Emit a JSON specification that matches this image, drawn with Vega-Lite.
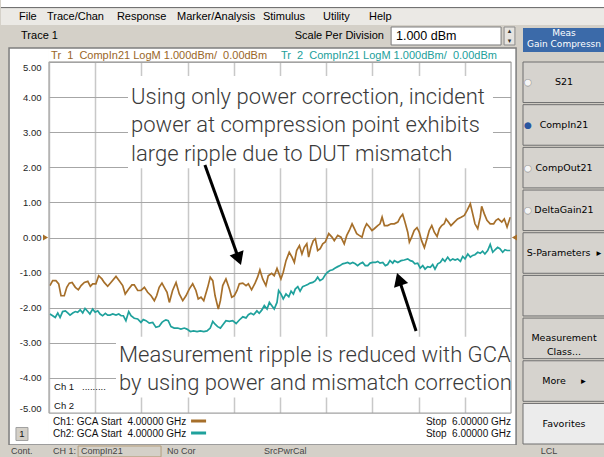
{
  "$schema": "https://vega.github.io/schema/vega-lite/v6.json",
  "background": "#d4d0c8",
  "padding": 0,
  "autosize": {"type": "pad"},
  "bounds": "flush",
  "align": "none",
  "columns": 2,
  "spacing": {"row": 6, "column": 12},
  "config": {"view": {"stroke": null}, "font": "Liberation Sans"},
  "datasets": {
    "traces": [
      {"trace":"Tr1","freq":4.004,"dbm":-1.37},{"trace":"Tr1","freq":4.016,"dbm":-1.23},{"trace":"Tr1","freq":4.030,"dbm":-1.23},{"trace":"Tr1","freq":4.042,"dbm":-1.32},{"trace":"Tr1","freq":4.052,"dbm":-1.66},{"trace":"Tr1","freq":4.066,"dbm":-1.66},{"trace":"Tr1","freq":4.077,"dbm":-1.42},{"trace":"Tr1","freq":4.088,"dbm":-1.30},{"trace":"Tr1","freq":4.100,"dbm":-1.28},{"trace":"Tr1","freq":4.114,"dbm":-1.42},
      {"trace":"Tr1","freq":4.127,"dbm":-1.49},{"trace":"Tr1","freq":4.139,"dbm":-1.37},{"trace":"Tr1","freq":4.153,"dbm":-1.28},{"trace":"Tr1","freq":4.168,"dbm":-1.25},{"trace":"Tr1","freq":4.179,"dbm":-1.39},{"trace":"Tr1","freq":4.189,"dbm":-1.32},{"trace":"Tr1","freq":4.203,"dbm":-1.32},{"trace":"Tr1","freq":4.215,"dbm":-1.09},{"trace":"Tr1","freq":4.229,"dbm":-1.18},{"trace":"Tr1","freq":4.239,"dbm":-1.28},
      {"trace":"Tr1","freq":4.254,"dbm":-1.39},{"trace":"Tr1","freq":4.268,"dbm":-1.28},{"trace":"Tr1","freq":4.290,"dbm":-1.11},{"trace":"Tr1","freq":4.304,"dbm":-1.23},{"trace":"Tr1","freq":4.319,"dbm":-1.37},{"trace":"Tr1","freq":4.330,"dbm":-1.61},{"trace":"Tr1","freq":4.345,"dbm":-1.47},{"trace":"Tr1","freq":4.359,"dbm":-1.35},{"trace":"Tr1","freq":4.369,"dbm":-1.35},{"trace":"Tr1","freq":4.384,"dbm":-1.51},
      {"trace":"Tr1","freq":4.398,"dbm":-1.51},{"trace":"Tr1","freq":4.413,"dbm":-1.42},{"trace":"Tr1","freq":4.427,"dbm":-1.56},{"trace":"Tr1","freq":4.442,"dbm":-1.66},{"trace":"Tr1","freq":4.456,"dbm":-1.80},{"trace":"Tr1","freq":4.466,"dbm":-1.66},{"trace":"Tr1","freq":4.477,"dbm":-1.42},{"trace":"Tr1","freq":4.489,"dbm":-1.30},{"trace":"Tr1","freq":4.499,"dbm":-1.42},{"trace":"Tr1","freq":4.511,"dbm":-1.56},
      {"trace":"Tr1","freq":4.521,"dbm":-1.85},{"trace":"Tr1","freq":4.535,"dbm":-1.51},{"trace":"Tr1","freq":4.550,"dbm":-1.28},{"trace":"Tr1","freq":4.564,"dbm":-1.61},{"trace":"Tr1","freq":4.579,"dbm":-1.80},{"trace":"Tr1","freq":4.593,"dbm":-1.66},{"trace":"Tr1","freq":4.607,"dbm":-1.47},{"trace":"Tr1","freq":4.622,"dbm":-1.32},{"trace":"Tr1","freq":4.636,"dbm":-1.51},{"trace":"Tr1","freq":4.646,"dbm":-1.75},
      {"trace":"Tr1","freq":4.658,"dbm":-1.70},{"trace":"Tr1","freq":4.670,"dbm":-1.80},{"trace":"Tr1","freq":4.687,"dbm":-1.42},{"trace":"Tr1","freq":4.698,"dbm":-1.13},{"trace":"Tr1","freq":4.709,"dbm":-1.23},{"trace":"Tr1","freq":4.719,"dbm":-1.66},{"trace":"Tr1","freq":4.733,"dbm":-2.04},{"trace":"Tr1","freq":4.742,"dbm":-1.80},{"trace":"Tr1","freq":4.752,"dbm":-1.37},{"trace":"Tr1","freq":4.766,"dbm":-1.18},
      {"trace":"Tr1","freq":4.781,"dbm":-1.47},{"trace":"Tr1","freq":4.791,"dbm":-1.70},{"trace":"Tr1","freq":4.802,"dbm":-1.66},{"trace":"Tr1","freq":4.814,"dbm":-1.51},{"trace":"Tr1","freq":4.824,"dbm":-1.32},{"trace":"Tr1","freq":4.839,"dbm":-1.30},{"trace":"Tr1","freq":4.853,"dbm":-1.37},{"trace":"Tr1","freq":4.863,"dbm":-1.32},{"trace":"Tr1","freq":4.877,"dbm":-1.49},{"trace":"Tr1","freq":4.892,"dbm":-1.30},
      {"trace":"Tr1","freq":4.903,"dbm":-1.13},{"trace":"Tr1","freq":4.913,"dbm":-0.92},{"trace":"Tr1","freq":4.925,"dbm":-1.18},{"trace":"Tr1","freq":4.939,"dbm":-1.37},{"trace":"Tr1","freq":4.949,"dbm":-1.09},{"trace":"Tr1","freq":4.964,"dbm":-1.02},{"trace":"Tr1","freq":4.975,"dbm":-1.09},{"trace":"Tr1","freq":4.987,"dbm":-0.88},{"trace":"Tr1","freq":5.004,"dbm":-1.18},{"trace":"Tr1","freq":5.014,"dbm":-0.99},
      {"trace":"Tr1","freq":5.026,"dbm":-0.66},{"trace":"Tr1","freq":5.040,"dbm":-0.42},{"trace":"Tr1","freq":5.052,"dbm":-0.56},{"trace":"Tr1","freq":5.062,"dbm":-0.71},{"trace":"Tr1","freq":5.072,"dbm":-0.37},{"trace":"Tr1","freq":5.084,"dbm":-0.23},{"trace":"Tr1","freq":5.095,"dbm":-0.47},{"trace":"Tr1","freq":5.105,"dbm":-0.28},{"trace":"Tr1","freq":5.116,"dbm":-0.18},{"trace":"Tr1","freq":5.124,"dbm":-0.56},
      {"trace":"Tr1","freq":5.134,"dbm":-0.28},{"trace":"Tr1","freq":5.144,"dbm":-0.09},{"trace":"Tr1","freq":5.153,"dbm":-0.04},{"trace":"Tr1","freq":5.163,"dbm":-0.37},{"trace":"Tr1","freq":5.174,"dbm":-0.32},{"trace":"Tr1","freq":5.185,"dbm":-0.18},{"trace":"Tr1","freq":5.196,"dbm":-0.13},{"trace":"Tr1","freq":5.211,"dbm":0.11},{"trace":"Tr1","freq":5.225,"dbm":0.01},{"trace":"Tr1","freq":5.235,"dbm":-0.09},
      {"trace":"Tr1","freq":5.250,"dbm":0.06},{"trace":"Tr1","freq":5.264,"dbm":0.01},{"trace":"Tr1","freq":5.278,"dbm":-0.18},{"trace":"Tr1","freq":5.289,"dbm":0.06},{"trace":"Tr1","freq":5.300,"dbm":0.20},{"trace":"Tr1","freq":5.312,"dbm":0.39},{"trace":"Tr1","freq":5.322,"dbm":0.25},{"trace":"Tr1","freq":5.332,"dbm":0.11},{"trace":"Tr1","freq":5.343,"dbm":0.06},{"trace":"Tr1","freq":5.355,"dbm":0.01},
      {"trace":"Tr1","freq":5.365,"dbm":0.25},{"trace":"Tr1","freq":5.375,"dbm":0.39},{"trace":"Tr1","freq":5.387,"dbm":0.30},{"trace":"Tr1","freq":5.398,"dbm":0.20},{"trace":"Tr1","freq":5.408,"dbm":0.25},{"trace":"Tr1","freq":5.423,"dbm":0.34},{"trace":"Tr1","freq":5.433,"dbm":0.39},{"trace":"Tr1","freq":5.442,"dbm":0.58},{"trace":"Tr1","freq":5.452,"dbm":0.34},{"trace":"Tr1","freq":5.466,"dbm":0.34},
      {"trace":"Tr1","freq":5.481,"dbm":0.39},{"trace":"Tr1","freq":5.495,"dbm":0.39},{"trace":"Tr1","freq":5.510,"dbm":0.44},{"trace":"Tr1","freq":5.521,"dbm":0.58},{"trace":"Tr1","freq":5.531,"dbm":0.66},{"trace":"Tr1","freq":5.541,"dbm":0.44},{"trace":"Tr1","freq":5.553,"dbm":0.15},{"trace":"Tr1","freq":5.560,"dbm":-0.13},{"trace":"Tr1","freq":5.570,"dbm":0.01},{"trace":"Tr1","freq":5.581,"dbm":0.20},
      {"trace":"Tr1","freq":5.593,"dbm":0.28},{"trace":"Tr1","freq":5.603,"dbm":0.15},{"trace":"Tr1","freq":5.613,"dbm":-0.09},{"trace":"Tr1","freq":5.625,"dbm":-0.29},{"trace":"Tr1","freq":5.636,"dbm":-0.04},{"trace":"Tr1","freq":5.646,"dbm":0.20},{"trace":"Tr1","freq":5.657,"dbm":0.34},{"trace":"Tr1","freq":5.668,"dbm":0.15},{"trace":"Tr1","freq":5.680,"dbm":0.03},{"trace":"Tr1","freq":5.690,"dbm":0.25},
      {"trace":"Tr1","freq":5.700,"dbm":0.34},{"trace":"Tr1","freq":5.711,"dbm":0.39},{"trace":"Tr1","freq":5.719,"dbm":0.53},{"trace":"Tr1","freq":5.729,"dbm":0.44},{"trace":"Tr1","freq":5.740,"dbm":0.34},{"trace":"Tr1","freq":5.755,"dbm":0.44},{"trace":"Tr1","freq":5.769,"dbm":0.53},{"trace":"Tr1","freq":5.784,"dbm":0.58},{"trace":"Tr1","freq":5.798,"dbm":0.63},{"trace":"Tr1","freq":5.810,"dbm":0.77},
      {"trace":"Tr1","freq":5.824,"dbm":0.96},{"trace":"Tr1","freq":5.834,"dbm":0.68},{"trace":"Tr1","freq":5.844,"dbm":0.39},{"trace":"Tr1","freq":5.856,"dbm":0.25},{"trace":"Tr1","freq":5.867,"dbm":0.58},{"trace":"Tr1","freq":5.873,"dbm":0.89},{"trace":"Tr1","freq":5.884,"dbm":0.68},{"trace":"Tr1","freq":5.896,"dbm":0.49},{"trace":"Tr1","freq":5.910,"dbm":0.39},{"trace":"Tr1","freq":5.925,"dbm":0.39},
      {"trace":"Tr1","freq":5.935,"dbm":0.49},{"trace":"Tr1","freq":5.945,"dbm":0.53},{"trace":"Tr1","freq":5.960,"dbm":0.44},{"trace":"Tr1","freq":5.971,"dbm":0.53},{"trace":"Tr1","freq":5.983,"dbm":0.30},{"trace":"Tr1","freq":5.997,"dbm":0.58},
      {"trace":"Tr2","freq":4.004,"dbm":-2.18},{"trace":"Tr2","freq":4.016,"dbm":-2.23},{"trace":"Tr2","freq":4.027,"dbm":-2.28},{"trace":"Tr2","freq":4.038,"dbm":-2.15},{"trace":"Tr2","freq":4.048,"dbm":-2.28},{"trace":"Tr2","freq":4.059,"dbm":-2.11},{"trace":"Tr2","freq":4.071,"dbm":-2.09},{"trace":"Tr2","freq":4.081,"dbm":-2.15},{"trace":"Tr2","freq":4.091,"dbm":-2.21},{"trace":"Tr2","freq":4.103,"dbm":-2.15},
      {"trace":"Tr2","freq":4.114,"dbm":-2.11},{"trace":"Tr2","freq":4.124,"dbm":-2.13},{"trace":"Tr2","freq":4.135,"dbm":-2.06},{"trace":"Tr2","freq":4.146,"dbm":-2.15},{"trace":"Tr2","freq":4.156,"dbm":-2.02},{"trace":"Tr2","freq":4.168,"dbm":-2.11},{"trace":"Tr2","freq":4.177,"dbm":-2.18},{"trace":"Tr2","freq":4.189,"dbm":-2.04},{"trace":"Tr2","freq":4.200,"dbm":-2.13},{"trace":"Tr2","freq":4.211,"dbm":-2.09},
      {"trace":"Tr2","freq":4.221,"dbm":-2.18},{"trace":"Tr2","freq":4.232,"dbm":-2.23},{"trace":"Tr2","freq":4.244,"dbm":-2.16},{"trace":"Tr2","freq":4.254,"dbm":-2.21},{"trace":"Tr2","freq":4.264,"dbm":-2.21},{"trace":"Tr2","freq":4.276,"dbm":-2.18},{"trace":"Tr2","freq":4.290,"dbm":-2.21},{"trace":"Tr2","freq":4.302,"dbm":-2.18},{"trace":"Tr2","freq":4.312,"dbm":-2.23},{"trace":"Tr2","freq":4.322,"dbm":-2.23},
      {"trace":"Tr2","freq":4.333,"dbm":-2.37},{"trace":"Tr2","freq":4.345,"dbm":-2.11},{"trace":"Tr2","freq":4.355,"dbm":-2.23},{"trace":"Tr2","freq":4.369,"dbm":-2.30},{"trace":"Tr2","freq":4.384,"dbm":-2.32},{"trace":"Tr2","freq":4.398,"dbm":-2.42},{"trace":"Tr2","freq":4.408,"dbm":-2.34},{"trace":"Tr2","freq":4.420,"dbm":-2.37},{"trace":"Tr2","freq":4.434,"dbm":-2.44},{"trace":"Tr2","freq":4.449,"dbm":-2.42},
      {"trace":"Tr2","freq":4.463,"dbm":-2.56},{"trace":"Tr2","freq":4.477,"dbm":-2.53},{"trace":"Tr2","freq":4.489,"dbm":-2.42},{"trace":"Tr2","freq":4.499,"dbm":-2.37},{"trace":"Tr2","freq":4.506,"dbm":-2.35},{"trace":"Tr2","freq":4.516,"dbm":-2.37},{"trace":"Tr2","freq":4.528,"dbm":-2.54},{"trace":"Tr2","freq":4.542,"dbm":-2.58},{"trace":"Tr2","freq":4.557,"dbm":-2.58},{"trace":"Tr2","freq":4.571,"dbm":-2.61},
      {"trace":"Tr2","freq":4.586,"dbm":-2.58},{"trace":"Tr2","freq":4.597,"dbm":-2.61},{"trace":"Tr2","freq":4.612,"dbm":-2.68},{"trace":"Tr2","freq":4.626,"dbm":-2.66},{"trace":"Tr2","freq":4.641,"dbm":-2.68},{"trace":"Tr2","freq":4.655,"dbm":-2.66},{"trace":"Tr2","freq":4.670,"dbm":-2.68},{"trace":"Tr2","freq":4.684,"dbm":-2.66},{"trace":"Tr2","freq":4.698,"dbm":-2.58},{"trace":"Tr2","freq":4.709,"dbm":-2.39},
      {"trace":"Tr2","freq":4.719,"dbm":-2.47},{"trace":"Tr2","freq":4.730,"dbm":-2.54},{"trace":"Tr2","freq":4.742,"dbm":-2.58},{"trace":"Tr2","freq":4.752,"dbm":-2.49},{"trace":"Tr2","freq":4.766,"dbm":-2.37},{"trace":"Tr2","freq":4.781,"dbm":-2.39},{"trace":"Tr2","freq":4.795,"dbm":-2.37},{"trace":"Tr2","freq":4.810,"dbm":-2.45},{"trace":"Tr2","freq":4.824,"dbm":-2.35},{"trace":"Tr2","freq":4.839,"dbm":-2.26},
      {"trace":"Tr2","freq":4.853,"dbm":-2.29},{"trace":"Tr2","freq":4.863,"dbm":-2.20},{"trace":"Tr2","freq":4.874,"dbm":-2.16},{"trace":"Tr2","freq":4.886,"dbm":-2.20},{"trace":"Tr2","freq":4.900,"dbm":-2.09},{"trace":"Tr2","freq":4.910,"dbm":-2.16},{"trace":"Tr2","freq":4.921,"dbm":-2.07},{"trace":"Tr2","freq":4.932,"dbm":-1.94},{"trace":"Tr2","freq":4.944,"dbm":-2.04},{"trace":"Tr2","freq":4.954,"dbm":-1.85},
      {"trace":"Tr2","freq":4.964,"dbm":-1.94},{"trace":"Tr2","freq":4.975,"dbm":-2.04},{"trace":"Tr2","freq":4.987,"dbm":-1.85},{"trace":"Tr2","freq":4.994,"dbm":-1.51},{"trace":"Tr2","freq":5.004,"dbm":-1.61},{"trace":"Tr2","freq":5.014,"dbm":-1.75},{"trace":"Tr2","freq":5.026,"dbm":-1.61},{"trace":"Tr2","freq":5.038,"dbm":-1.69},{"trace":"Tr2","freq":5.048,"dbm":-1.53},{"trace":"Tr2","freq":5.058,"dbm":-1.61},
      {"trace":"Tr2","freq":5.066,"dbm":-1.47},{"trace":"Tr2","freq":5.077,"dbm":-1.40},{"trace":"Tr2","freq":5.087,"dbm":-1.53},{"trace":"Tr2","freq":5.098,"dbm":-1.40},{"trace":"Tr2","freq":5.110,"dbm":-1.37},{"trace":"Tr2","freq":5.120,"dbm":-1.34},{"trace":"Tr2","freq":5.130,"dbm":-1.30},{"trace":"Tr2","freq":5.142,"dbm":-1.28},{"trace":"Tr2","freq":5.153,"dbm":-1.23},{"trace":"Tr2","freq":5.163,"dbm":-1.13},
      {"trace":"Tr2","freq":5.173,"dbm":-1.23},{"trace":"Tr2","freq":5.185,"dbm":-1.18},{"trace":"Tr2","freq":5.196,"dbm":-1.06},{"trace":"Tr2","freq":5.206,"dbm":-0.99},{"trace":"Tr2","freq":5.216,"dbm":-0.94},{"trace":"Tr2","freq":5.228,"dbm":-0.92},{"trace":"Tr2","freq":5.239,"dbm":-0.87},{"trace":"Tr2","freq":5.250,"dbm":-0.83},{"trace":"Tr2","freq":5.260,"dbm":-0.80},{"trace":"Tr2","freq":5.271,"dbm":-0.75},
      {"trace":"Tr2","freq":5.283,"dbm":-0.73},{"trace":"Tr2","freq":5.293,"dbm":-0.71},{"trace":"Tr2","freq":5.303,"dbm":-0.75},{"trace":"Tr2","freq":5.315,"dbm":-0.71},{"trace":"Tr2","freq":5.326,"dbm":-0.75},{"trace":"Tr2","freq":5.336,"dbm":-0.80},{"trace":"Tr2","freq":5.346,"dbm":-0.75},{"trace":"Tr2","freq":5.358,"dbm":-0.71},{"trace":"Tr2","freq":5.369,"dbm":-0.80},{"trace":"Tr2","freq":5.380,"dbm":-0.80},
      {"trace":"Tr2","freq":5.390,"dbm":-0.73},{"trace":"Tr2","freq":5.401,"dbm":-0.71},{"trace":"Tr2","freq":5.413,"dbm":-0.71},{"trace":"Tr2","freq":5.423,"dbm":-0.68},{"trace":"Tr2","freq":5.433,"dbm":-0.73},{"trace":"Tr2","freq":5.445,"dbm":-0.71},{"trace":"Tr2","freq":5.456,"dbm":-0.80},{"trace":"Tr2","freq":5.466,"dbm":-0.77},{"trace":"Tr2","freq":5.476,"dbm":-0.66},{"trace":"Tr2","freq":5.488,"dbm":-0.73},
      {"trace":"Tr2","freq":5.495,"dbm":-0.66},{"trace":"Tr2","freq":5.510,"dbm":-0.71},{"trace":"Tr2","freq":5.524,"dbm":-0.66},{"trace":"Tr2","freq":5.538,"dbm":-0.64},{"trace":"Tr2","freq":5.553,"dbm":-0.61},{"trace":"Tr2","freq":5.564,"dbm":-0.66},{"trace":"Tr2","freq":5.574,"dbm":-0.68},{"trace":"Tr2","freq":5.584,"dbm":-0.75},{"trace":"Tr2","freq":5.596,"dbm":-0.73},{"trace":"Tr2","freq":5.607,"dbm":-0.87},
      {"trace":"Tr2","freq":5.618,"dbm":-0.80},{"trace":"Tr2","freq":5.628,"dbm":-0.90},{"trace":"Tr2","freq":5.639,"dbm":-0.83},{"trace":"Tr2","freq":5.651,"dbm":-0.85},{"trace":"Tr2","freq":5.661,"dbm":-0.77},{"trace":"Tr2","freq":5.671,"dbm":-0.90},{"trace":"Tr2","freq":5.683,"dbm":-0.75},{"trace":"Tr2","freq":5.694,"dbm":-0.71},{"trace":"Tr2","freq":5.704,"dbm":-0.61},{"trace":"Tr2","freq":5.714,"dbm":-0.68},
      {"trace":"Tr2","freq":5.726,"dbm":-0.56},{"trace":"Tr2","freq":5.737,"dbm":-0.66},{"trace":"Tr2","freq":5.748,"dbm":-0.61},{"trace":"Tr2","freq":5.758,"dbm":-0.64},{"trace":"Tr2","freq":5.769,"dbm":-0.61},{"trace":"Tr2","freq":5.781,"dbm":-0.68},{"trace":"Tr2","freq":5.791,"dbm":-0.54},{"trace":"Tr2","freq":5.801,"dbm":-0.61},{"trace":"Tr2","freq":5.813,"dbm":-0.47},{"trace":"Tr2","freq":5.824,"dbm":-0.56},
      {"trace":"Tr2","freq":5.834,"dbm":-0.51},{"trace":"Tr2","freq":5.844,"dbm":-0.49},{"trace":"Tr2","freq":5.856,"dbm":-0.42},{"trace":"Tr2","freq":5.867,"dbm":-0.45},{"trace":"Tr2","freq":5.877,"dbm":-0.39},{"trace":"Tr2","freq":5.887,"dbm":-0.47},{"trace":"Tr2","freq":5.899,"dbm":-0.37},{"trace":"Tr2","freq":5.910,"dbm":-0.20},{"trace":"Tr2","freq":5.921,"dbm":-0.42},{"trace":"Tr2","freq":5.931,"dbm":-0.35},
      {"trace":"Tr2","freq":5.942,"dbm":-0.28},{"trace":"Tr2","freq":5.952,"dbm":-0.32},{"trace":"Tr2","freq":5.964,"dbm":-0.42},{"trace":"Tr2","freq":5.974,"dbm":-0.35},{"trace":"Tr2","freq":5.983,"dbm":-0.37},{"trace":"Tr2","freq":5.997,"dbm":-0.37}
    ],
    "buttons": [
      {"label":"S21","radio":"off"},
      {"label":"CompIn21","radio":"on"},
      {"label":"CompOut21","radio":"off"},
      {"label":"DeltaGain21","radio":"off"},
      {"label":"S-Parameters\u00a0\u00a0▸","radio":"none"},
      {"label":" ","radio":"none"},
      {"label":"Measurement|Class...","radio":"none"},
      {"label":"\u00a0\u00a0\u00a0\u00a0\u00a0\u00a0\u00a0\u00a0\u00a0More\u00a0\u00a0\u00a0\u00a0\u00a0▸","radio":"none"},
      {"label":"Favorites","radio":"none"}
    ]
  },
  "concat": [
    {
      "width": 462,
      "height": 28,
      "data": {"values": [{}]},
      "layer": [
        {"mark": {"type": "text", "align": "left", "baseline": "middle", "fontSize": 11, "color": "#000", "clip": false},
         "encoding": {"x": {"datum": 3.879, "scale": {"domain": [4, 6], "nice": false, "zero": false}, "axis": null}, "y": {"datum": 0.714, "scale": {"domain": [0, 1], "nice": false, "zero": false}, "axis": null}, "text": {"value": "Trace 1"}}},
        {"mark": {"type": "text", "align": "right", "baseline": "middle", "fontSize": 11, "color": "#000", "clip": false},
         "encoding": {"x": {"datum": 5.45, "axis": null}, "y": {"datum": 0.714, "axis": null}, "text": {"value": "Scale Per Division"}}},
        {"mark": {"type": "rect", "fill": "white", "stroke": "#7b7b7b", "strokeWidth": 1, "clip": false},
         "encoding": {"x": {"datum": 5.481, "axis": null}, "x2": {"datum": 5.957}, "y": {"datum": 1.036, "axis": null}, "y2": {"datum": 0.393}}},
        {"mark": {"type": "text", "align": "left", "baseline": "middle", "fontSize": 12.5, "color": "#000", "clip": false},
         "encoding": {"x": {"datum": 5.502, "axis": null}, "y": {"datum": 0.714, "axis": null}, "text": {"value": "1.000 dBm"}}},
        {"mark": {"type": "rect", "fill": "#e6e4e0", "stroke": "#8a8a8a", "strokeWidth": 1, "clip": false},
         "encoding": {"x": {"datum": 5.970, "axis": null}, "x2": {"datum": 6.017}, "y": {"datum": 1.036, "axis": null}, "y2": {"datum": 0.393}}},
        {"mark": {"type": "text", "align": "center", "baseline": "middle", "fontSize": 7, "color": "#333", "font": "DejaVu Sans", "clip": false},
         "encoding": {"x": {"datum": 5.9935, "axis": null}, "y": {"datum": 0.88, "axis": null}, "text": {"value": "▴"}}},
        {"mark": {"type": "text", "align": "center", "baseline": "middle", "fontSize": 7, "color": "#333", "font": "DejaVu Sans", "clip": false},
         "encoding": {"x": {"datum": 5.9935, "axis": null}, "y": {"datum": 0.55, "axis": null}, "text": {"value": "▾"}}}
      ]
    },
    {
      "width": 82,
      "height": 24,
      "data": {"values": [{}]},
      "layer": [
        {"mark": {"type": "rect", "fill": "#3b6aa9"}, "encoding": {}},
        {"mark": {"type": "text", "align": "center", "baseline": "top", "fontSize": 9, "color": "white", "font": "DejaVu Sans", "clip": false},
         "encoding": {"y": {"datum": 0.95, "scale": {"domain": [0, 1], "nice": false, "zero": false}, "axis": null}, "text": {"value": "Meas"}}},
        {"mark": {"type": "text", "align": "center", "baseline": "top", "fontSize": 9, "color": "white", "font": "DejaVu Sans", "clip": false},
         "encoding": {"y": {"datum": 0.48, "axis": null}, "text": {"value": "Gain Compressn"}}}
      ]
    },
    {
      "width": 462,
      "height": 351,
      "view": {"fill": "white", "stroke": null},
      "data": {"values": [{}]},
      "resolve": {"axis": {"x": "independent", "y": "independent"}},
      "layer": [
        {
          "data": {"name": "traces"},
          "mark": {"type": "line", "strokeWidth": 1.7, "clip": true},
          "encoding": {
            "x": {"field": "freq", "type": "quantitative", "scale": {"domain": [4, 6], "nice": false, "zero": false},
                  "axis": {"orient": "bottom", "grid": true, "labels": false, "ticks": false, "domain": false, "title": null, "values": [4, 4.2, 4.4, 4.6, 4.8, 5, 5.2, 5.4, 5.6, 5.8, 6], "gridColor": "#c8c8c8", "gridWidth": 1.5, "minExtent": 0, "maxExtent": 0}},
            "y": {"field": "dbm", "type": "quantitative", "scale": {"domain": [-5, 5], "nice": false, "zero": false},
                  "axis": {"orient": "left", "grid": true, "labels": false, "ticks": false, "domain": false, "title": null, "values": [-5, -4, -3, -2, -1, 0, 1, 2, 3, 4, 5], "gridColor": "#a6a6a6", "gridWidth": 1, "minExtent": 0, "maxExtent": 0}},
            "color": {"field": "trace", "type": "nominal", "scale": {"domain": ["Tr1", "Tr2"], "range": ["#a66f2a", "#1fa19c"]}, "legend": null}
          }
        },
        {"mark": {"type": "rect", "fill": "white", "clip": false},
         "encoding": {"x": {"datum": 3.827, "axis": null}, "x2": {"datum": 3.998}, "y": {"datum": 5.399, "axis": null}, "y2": {"datum": -5.912}}},
        {"mark": {"type": "rect", "fill": "white", "clip": false},
         "encoding": {"x": {"datum": 3.996, "axis": null}, "x2": {"datum": 6.022}, "y": {"datum": 5.399, "axis": null}, "y2": {"datum": 5.014}}},
        {"mark": {"type": "rect", "fill": "white", "clip": false},
         "encoding": {"x": {"datum": 3.996, "axis": null}, "x2": {"datum": 6.022}, "y": {"datum": -5.014, "axis": null}, "y2": {"datum": -5.912}}},
        {"mark": {"type": "rect", "fill": "white", "clip": false},
         "encoding": {"x": {"datum": 6.002, "axis": null}, "x2": {"datum": 6.022}, "y": {"datum": 5.03, "axis": null}, "y2": {"datum": -5.03}}},
        {"mark": {"type": "rect", "fillOpacity": 0, "stroke": "#7d7d7d", "strokeWidth": 1.5, "clip": false},
         "encoding": {"x": {"datum": 3.827, "axis": null}, "x2": {"datum": 6.022}, "y": {"datum": 5.399, "axis": null}, "y2": {"datum": -5.912}}},
        {"mark": {"type": "rect", "fill": "white", "clip": false},
         "encoding": {"x": {"datum": 3.792, "axis": null}, "x2": {"datum": 6.407}, "y": {"datum": 6.766, "axis": null}, "y2": {"datum": 6.567}}},
        {"mark": {"type": "rect", "fill": "#ebe9e5", "clip": false},
         "encoding": {"x": {"datum": 3.792, "axis": null}, "x2": {"datum": 6.407}, "y": {"datum": 6.567, "axis": null}, "y2": {"datum": 6.054}}},
        {"mark": {"type": "rule", "stroke": "#666", "strokeWidth": 1, "clip": false},
         "encoding": {"x": {"datum": 3.792, "axis": null}, "x2": {"datum": 6.407}, "y": {"datum": 6.55, "axis": null}}},
        {"mark": {"type": "rect", "fill": "#d4d0c8", "clip": false},
         "encoding": {"x": {"datum": 3.792, "axis": null}, "x2": {"datum": 6.407}, "y": {"datum": -5.912, "axis": null}, "y2": {"datum": -6.254}}},
        {"mark": {"type": "rect", "fill": "white", "clip": false},
         "encoding": {"x": {"datum": 4.342, "axis": null}, "x2": {"datum": 5.922}, "y": {"datum": 4.6, "axis": null}, "y2": {"datum": 1.97}}},
        {"mark": {"type": "rect", "fill": "white", "clip": false},
         "encoding": {"x": {"datum": 4.29, "axis": null}, "x2": {"datum": 6.0}, "y": {"datum": -2.83, "axis": null}, "y2": {"datum": -4.56}}},
        {"mark": {"type": "rect", "fillOpacity": 0, "stroke": "#a0a0a0", "strokeWidth": 1, "clip": false},
         "encoding": {"x": {"datum": 4, "axis": null}, "x2": {"datum": 6}, "y": {"datum": 5, "axis": null}, "y2": {"datum": -5}}},
        {"mark": {"type": "text", "align": "left", "baseline": "top", "font": "Roboto", "fontWeight": 300, "fontSize": 22, "lineHeight": 28.5, "color": "#3a3a3a", "clip": false},
         "encoding": {"x": {"datum": 4.355, "axis": null}, "y": {"datum": 4.299, "axis": null},
                      "text": {"value": ["Using only power correction, incident", "power at compression point exhibits", "large ripple due to DUT mismatch"]}}},
        {"mark": {"type": "text", "align": "left", "baseline": "top", "font": "Roboto", "fontWeight": 300, "fontSize": 22, "lineHeight": 28, "color": "#3a3a3a", "clip": false},
         "encoding": {"x": {"datum": 4.303, "axis": null}, "y": {"datum": -3.051, "axis": null},
                      "text": {"value": ["Measurement ripple is reduced with GCA", "by using power and mismatch correction"]}}},
        {"mark": {"type": "rule", "color": "black", "strokeWidth": 3, "clip": false},
         "encoding": {"x": {"datum": 4.675, "axis": null}, "y": {"datum": 2.066, "axis": null}, "x2": {"datum": 4.8216}, "y2": {"datum": -0.61}}},
        {"mark": {"type": "point", "shape": "triangle-up", "filled": true, "color": "black", "opacity": 1, "size": 220, "angle": 160, "clip": false},
         "encoding": {"x": {"datum": 4.8216, "axis": null}, "y": {"datum": -0.61, "axis": null}}},
        {"mark": {"type": "rule", "color": "black", "strokeWidth": 3, "clip": false},
         "encoding": {"x": {"datum": 5.589, "axis": null}, "y": {"datum": -2.664, "axis": null}, "x2": {"datum": 5.5154}, "y2": {"datum": -1.188}}},
        {"mark": {"type": "point", "shape": "triangle-up", "filled": true, "color": "black", "opacity": 1, "size": 220, "angle": 341.6, "clip": false},
         "encoding": {"x": {"datum": 5.5154, "axis": null}, "y": {"datum": -1.188, "axis": null}}},
        {"mark": {"type": "text", "align": "left", "baseline": "middle", "fontSize": 11, "color": "#9a6628", "clip": false},
         "encoding": {"x": {"datum": 4.009, "axis": null}, "y": {"datum": 5.171, "axis": null}, "text": {"value": "Tr\u00a0\u00a01\u00a0\u00a0CompIn21 LogM 1.000dBm/\u00a0\u00a00.00dBm"}}},
        {"mark": {"type": "text", "align": "left", "baseline": "middle", "fontSize": 11, "color": "#22a09b", "clip": false},
         "encoding": {"x": {"datum": 5.004, "axis": null}, "y": {"datum": 5.171, "axis": null}, "text": {"value": "Tr\u00a0\u00a02\u00a0\u00a0CompIn21 LogM 1.000dBm/\u00a0\u00a00.00dBm"}}},
        {"mark": {"type": "point", "shape": "triangle-right", "filled": true, "color": "#a66f2a", "opacity": 1, "size": 35, "clip": false},
         "encoding": {"x": {"datum": 3.985, "axis": null}, "y": {"datum": 0, "axis": null}}},
        {"mark": {"type": "point", "shape": "triangle-left", "filled": true, "color": "#a66f2a", "opacity": 1, "size": 35, "clip": false},
         "encoding": {"x": {"datum": 6.015, "axis": null}, "y": {"datum": 0, "axis": null}}},
        {"mark": {"type": "text", "align": "left", "baseline": "top", "fontSize": 9.5, "lineHeight": 19, "color": "#111", "clip": false},
         "encoding": {"x": {"datum": 4.022, "axis": null}, "y": {"datum": -4.12, "axis": null}, "text": {"value": ["Ch 1\u00a0\u00a0\u00a0.........", "Ch 2"]}}},
        {"mark": {"type": "text", "align": "left", "baseline": "top", "fontSize": 10, "lineHeight": 12, "color": "#111", "clip": false},
         "encoding": {"x": {"datum": 4.017, "axis": null}, "y": {"datum": -5.117, "axis": null}, "text": {"value": ["Ch1: GCA Start\u00a0\u00a04.00000 GHz", "Ch2: GCA Start\u00a0\u00a04.00000 GHz"]}}},
        {"mark": {"type": "text", "align": "right", "baseline": "top", "fontSize": 10, "lineHeight": 12, "color": "#111", "clip": false},
         "encoding": {"x": {"datum": 6.0, "axis": null}, "y": {"datum": -5.117, "axis": null}, "text": {"value": ["Stop\u00a0\u00a06.00000 GHz", "Stop\u00a0\u00a06.00000 GHz"]}}},
        {"mark": {"type": "rule", "color": "#a66f2a", "strokeWidth": 3, "clip": false},
         "encoding": {"x": {"datum": 4.615, "axis": null}, "x2": {"datum": 4.68}, "y": {"datum": -5.228, "axis": null}}},
        {"mark": {"type": "rule", "color": "#1fa19c", "strokeWidth": 3, "clip": false},
         "encoding": {"x": {"datum": 4.615, "axis": null}, "x2": {"datum": 4.68}, "y": {"datum": -5.57, "axis": null}}},
        {"mark": {"type": "rect", "fill": "#d4d0c8", "stroke": "#a0a0a0", "clip": false},
         "encoding": {"x": {"datum": 3.857, "axis": null}, "x2": {"datum": 3.909}, "y": {"datum": -5.413, "axis": null}, "y2": {"datum": -5.783}}},
        {"mark": {"type": "text", "align": "center", "baseline": "middle", "fontSize": 9.5, "color": "#111", "clip": false},
         "encoding": {"x": {"datum": 3.883, "axis": null}, "y": {"datum": -5.598, "axis": null}, "text": {"value": "1"}}},
        {"mark": {"type": "text", "align": "left", "baseline": "middle", "fontSize": 11, "color": "#000", "clip": false},
         "encoding": {"x": {"datum": 3.870, "axis": null}, "y": {"datum": 6.282, "axis": null}, "text": {"value": "File"}}},
        {"mark": {"type": "text", "align": "left", "baseline": "middle", "fontSize": 11, "color": "#000", "clip": false},
         "encoding": {"x": {"datum": 3.991, "axis": null}, "y": {"datum": 6.282, "axis": null}, "text": {"value": "Trace/Chan"}}},
        {"mark": {"type": "text", "align": "left", "baseline": "middle", "fontSize": 11, "color": "#000", "clip": false},
         "encoding": {"x": {"datum": 4.294, "axis": null}, "y": {"datum": 6.282, "axis": null}, "text": {"value": "Response"}}},
        {"mark": {"type": "text", "align": "left", "baseline": "middle", "fontSize": 11, "color": "#000", "clip": false},
         "encoding": {"x": {"datum": 4.554, "axis": null}, "y": {"datum": 6.282, "axis": null}, "text": {"value": "Marker/Analysis"}}},
        {"mark": {"type": "text", "align": "left", "baseline": "middle", "fontSize": 11, "color": "#000", "clip": false},
         "encoding": {"x": {"datum": 4.926, "axis": null}, "y": {"datum": 6.282, "axis": null}, "text": {"value": "Stimulus"}}},
        {"mark": {"type": "text", "align": "left", "baseline": "middle", "fontSize": 11, "color": "#000", "clip": false},
         "encoding": {"x": {"datum": 5.186, "axis": null}, "y": {"datum": 6.282, "axis": null}, "text": {"value": "Utility"}}},
        {"mark": {"type": "text", "align": "left", "baseline": "middle", "fontSize": 11, "color": "#000", "clip": false},
         "encoding": {"x": {"datum": 5.385, "axis": null}, "y": {"datum": 6.282, "axis": null}, "text": {"value": "Help"}}},
        {"mark": {"type": "text", "align": "left", "baseline": "middle", "fontSize": 9, "color": "#444", "clip": false},
         "encoding": {"x": {"datum": 3.835, "axis": null}, "y": {"datum": -6.083, "axis": null}, "text": {"value": "Cont."}}},
        {"mark": {"type": "text", "align": "left", "baseline": "middle", "fontSize": 9, "color": "#444", "clip": false},
         "encoding": {"x": {"datum": 4.017, "axis": null}, "y": {"datum": -6.083, "axis": null}, "text": {"value": "CH 1:"}}},
        {"mark": {"type": "rect", "fillOpacity": 0, "stroke": "#b59e7c", "strokeWidth": 1, "clip": false},
         "encoding": {"x": {"datum": 4.126, "axis": null}, "x2": {"datum": 4.485}, "y": {"datum": -5.94, "axis": null}, "y2": {"datum": -6.25}}},
        {"mark": {"type": "text", "align": "left", "baseline": "middle", "fontSize": 9, "color": "#444", "clip": false},
         "encoding": {"x": {"datum": 4.139, "axis": null}, "y": {"datum": -6.083, "axis": null}, "text": {"value": "CompIn21"}}},
        {"mark": {"type": "text", "align": "left", "baseline": "middle", "fontSize": 9, "color": "#444", "clip": false},
         "encoding": {"x": {"datum": 4.511, "axis": null}, "y": {"datum": -6.083, "axis": null}, "text": {"value": "No Cor"}}},
        {"mark": {"type": "text", "align": "left", "baseline": "middle", "fontSize": 9, "color": "#444", "clip": false},
         "encoding": {"x": {"datum": 4.931, "axis": null}, "y": {"datum": -6.083, "axis": null}, "text": {"value": "SrcPwrCal"}}},
        {"mark": {"type": "text", "align": "center", "baseline": "middle", "fontSize": 9, "color": "#444", "clip": false},
         "encoding": {"x": {"datum": 6.165, "axis": null}, "y": {"datum": -6.083, "axis": null}, "text": {"value": "LCL"}}},
        {"mark": {"type": "point", "opacity": 0},
         "encoding": {"y": {"datum": 0, "axis": {"orient": "left", "grid": false, "ticks": false, "domain": false, "title": null, "labelFlush": true, "values": [-5, -4, -3, -2, -1, 0, 1, 2, 3, 4, 5], "labelExpr": "(datum.value < 0 ? '-' : '') + format(abs(datum.value), '.2f')", "labelPadding": 8, "labelFontSize": 9.5, "labelFont": "Liberation Sans", "labelColor": "#1e1e1e", "zindex": 1}}}}
      ]
    },
    {
      "width": 82,
      "height": 382,
      "data": {"name": "buttons"},
      "encoding": {"y": {"field": "label", "type": "nominal", "sort": null, "scale": {"paddingInner": 0.05, "paddingOuter": 0}, "axis": null}},
      "layer": [
        {"mark": {"type": "rect", "stroke": "#6f6f6f", "strokeWidth": 1},
         "encoding": {"fill": {"condition": {"test": "datum.label === 'Favorites'", "value": "#ececec"}, "value": "#d6d3ce"}}},
        {"mark": {"type": "text", "align": "center", "baseline": "middle", "fontSize": 9.5, "font": "DejaVu Sans", "lineBreak": "|", "lineHeight": 14, "color": "#000"},
         "encoding": {"text": {"field": "label", "type": "nominal"}}},
        {"transform": [{"filter": "datum.radio === 'on'"}],
         "mark": {"type": "text", "align": "center", "baseline": "middle", "fontSize": 9, "dx": -36, "color": "#2a56a0", "font": "DejaVu Sans"},
         "encoding": {"text": {"value": "●"}}},
        {"transform": [{"filter": "datum.radio === 'off'"}],
         "mark": {"type": "text", "align": "center", "baseline": "middle", "fontSize": 9, "dx": -36, "color": "#f6f6f6", "stroke": "#9a9a9a", "strokeWidth": 0.6, "font": "DejaVu Sans"},
         "encoding": {"text": {"value": "●"}}}
      ]
    }
  ]
}
